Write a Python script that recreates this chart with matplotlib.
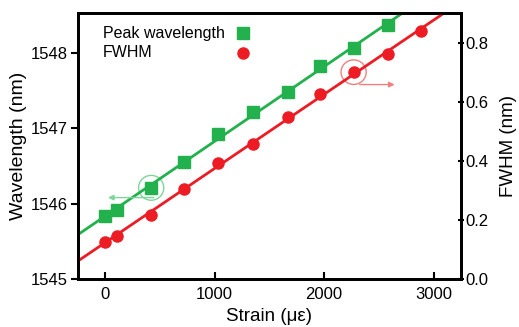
import numpy as np
import matplotlib
matplotlib.use('Agg')
import matplotlib.pyplot as plt
from matplotlib.patches import Ellipse

plt.rcParams['font.family'] = ['Liberation Sans', 'DejaVu Sans']

# data
strain = [0, 110, 420, 720, 1030, 1350, 1670, 1960, 2270, 2580, 2890]
wavelength = [1545.84, 1545.91, 1546.21, 1546.55, 1546.92, 1547.21, 1547.48, 1547.83, 1548.07, 1548.37, 1548.68]
fwhm = [0.125, 0.146, 0.217, 0.305, 0.393, 0.457, 0.549, 0.627, 0.70, 0.76, 0.84]
legend_labels = ['Peak wavelength', 'FWHM']

green = '#22b14c'
red = '#ed1c24'

fig = plt.figure(figsize=(5.19, 3.27), dpi=100)
ax = fig.add_axes([0.150, 0.147, 0.738, 0.813])
ax2 = ax.twinx()

xlim = (-250, 3250)
xx = np.array(xlim)

pw = np.polyfit(strain, wavelength, 1)
pf = np.polyfit(strain, fwhm, 1)

ax.plot(xx, np.polyval(pw, xx), color=green, lw=2)
ax.plot(strain, wavelength, 's', color=green, ms=8)
ax2.plot(xx, np.polyval(pf, xx), color=red, lw=2)
ax2.plot(strain, fwhm, 'o', color=red, ms=8)

ax.set_xlim(*xlim)
ax.set_ylim(1545, 1548.53)
ax2.set_ylim(0, 0.9)
ax.set_xticks([0, 1000, 2000, 3000])
ax.set_yticks([1545, 1546, 1547, 1548])
ax2.set_yticks([0.0, 0.2, 0.4, 0.6, 0.8])

# circles + arrows marking which axis each series uses
ax.add_patch(Ellipse((420, 1546.21), 230, 0.33, fill=False, ec='#7fd69a', lw=1))
ax.annotate('', xy=(0, 1546.08), xytext=(470, 1546.08),
            arrowprops=dict(arrowstyle='-|>', color='#7fd69a', lw=1, mutation_scale=8))
ax2.add_patch(Ellipse((2270, 0.70), 230, 0.083, fill=False, ec='#f08080', lw=1))
ax2.annotate('', xy=(2670, 0.658), xytext=(2300, 0.658),
             arrowprops=dict(arrowstyle='-|>', color='#f08080', lw=1, mutation_scale=8))

# legend by hand: text left, marker on the right
ax.text(0.065, 0.925, legend_labels[0], transform=ax.transAxes, fontsize=11.5, va='center')
ax.text(0.065, 0.85, legend_labels[1], transform=ax.transAxes, fontsize=11.5, va='center')
ax.plot([0.43], [0.925], 's', color=green, ms=8, transform=ax.transAxes, clip_on=False)
ax.plot([0.43], [0.85], 'o', color=red, ms=8, transform=ax.transAxes, clip_on=False)

for a in (ax, ax2):
    for s in a.spines.values():
        s.set_linewidth(2)
    a.tick_params(labelsize=12, width=1.5, length=5)
ax.tick_params(axis='x', direction='in', pad=6)
ax.tick_params(axis='y', direction='out', pad=2)
ax2.tick_params(axis='y', direction='inout', length=5, pad=1)

ax.set_xlabel('Strain (με)', fontsize=13.5, labelpad=4)
ax.set_ylabel('Wavelength (nm)', fontsize=14, labelpad=3)
ax2.set_ylabel('FWHM (nm)', fontsize=13.5, labelpad=8)

fig.savefig('out.png', dpi=100)
